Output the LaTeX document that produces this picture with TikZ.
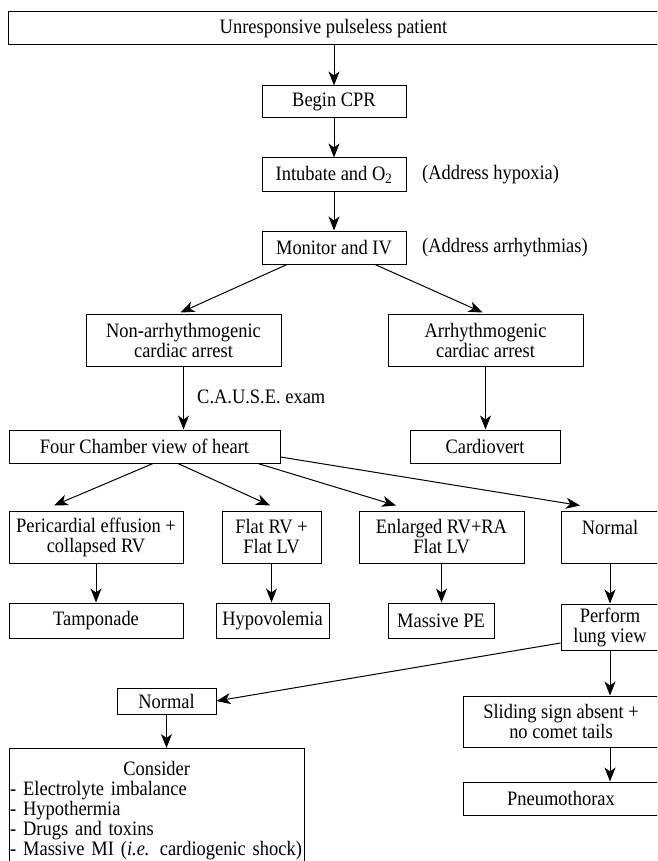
\documentclass[tikz,border=0pt]{standalone}
\usepackage{fontspec}
\setmainfont{Liberation Serif}[FakeStretch=0.9]
\usetikzlibrary{arrows.meta,calc}
\newcommand\diagfs{\fontsize{20.5}{20}\selectfont}
\begin{document}
\begin{tikzpicture}[x=1pt,y=-1pt,font=\diagfs,
  box/.style={draw, line width=1pt, inner sep=0pt, align=center},
  lbl/.style={inner sep=0pt},
  arr/.style={line width=1pt, -{Stealth[length=14pt,width=11pt,inset=4pt]}}]
\useasboundingbox (0,0) rectangle (657,861);
\clip (0,0) rectangle (657,861);

\node[box, minimum width=651pt, minimum height=33pt] (top) at (333.5,28.5) {Unresponsive pulseless patient};
\node[box, minimum width=144pt, minimum height=32pt] (cpr) at (334,102) {Begin CPR};
\node[box, minimum width=144pt, minimum height=33pt] (intub) at (334,174.5) {Intubate and O\textsubscript{2}};
\node[box, minimum width=144pt, minimum height=33pt] (mon) at (334,247.5) {Monitor and IV};
\node[lbl, anchor=west] (hyp) at (422,175) {(Address hypoxia)};
\node[lbl, anchor=west] (arrh) at (422,247.5) {(Address arrhythmias)};

\node[box, minimum width=195pt, minimum height=52pt] (non) at (183.5,340) {Non-arrhythmogenic\\cardiac arrest};
\node[box, minimum width=195pt, minimum height=52pt] (arr) at (485.5,340) {Arrhythmogenic\\cardiac arrest};
\node[lbl, anchor=west] (cause) at (197,397) {C.A.U.S.E. exam};

\node[box, minimum width=271pt, minimum height=33pt] (four) at (144.5,446.5) {Four Chamber view of heart};
\node[box, minimum width=150pt, minimum height=33pt] (cardio) at (485,446.5) {Cardiovert};

\node[box, minimum width=174pt, minimum height=52pt] (peri) at (96,537) {Pericardial effusion +\\collapsed RV};
\node[box, minimum width=99pt, minimum height=52pt] (flat) at (271.5,537) {Flat RV +\\Flat LV};
\node[box, minimum width=165pt, minimum height=52pt] (enl) at (441.5,537) {Enlarged RV+RA\\Flat LV};
\node[box, minimum width=98pt, minimum height=52pt] (norma) at (610,537) {Normal\\\mbox{}};

\node[box, minimum width=174pt, minimum height=35pt] (tamp) at (96,620.5) {Tamponade};
\node[box, minimum width=113pt, minimum height=35pt] (hypo) at (272.5,620.5) {Hypovolemia};
\node[box, minimum width=106pt, minimum height=35pt] (mpe) at (441,620.5) {Massive PE};
\node[box, minimum width=98pt, minimum height=46pt] (perf) at (610,627) {Perform\\lung view};

\node[box, minimum width=99pt, minimum height=26pt] (normb) at (166.5,701) {Normal};
\node[box, minimum width=196pt, minimum height=51pt] (slid) at (561,721.5) {Sliding sign absent +\\no comet tails};
\node[box, minimum width=196pt, minimum height=33pt] (pneu) at (561,798.5) {Pneumothorax};

\node[box, anchor=north west, minimum width=295pt, minimum height=140pt] (cons) at (9,748) {};
\node[anchor=north west, inner sep=0pt, text width=293pt, align=left] (constext) at (10,761)
  {\makebox[\linewidth]{Consider}\\- Electrolyte imbalance\\- Hypothermia\\- Drugs and toxins\\- Massive MI (\textit{i.e.} cardiogenic shock)};

% connectors
\draw[arr] (top.south -| cpr.north) -- (cpr.north);
\draw[arr] (cpr) -- (intub);
\draw[arr] (intub) -- (mon);
\draw[arr] ($(mon.south)+(-47,0)$) -- ($(non.north)+(-3,-1)$);
\draw[arr] ($(mon.south)+(41,0)$) -- ($(arr.north)+(-3,-1)$);
\draw[arr] (non.south) -- (non.south |- four.north);
\draw[arr] (arr.south) -- (arr.south |- cardio.north);

\draw[arr] ($(four.south)+(8.5,0)$) -- ($(peri.north)+(-42,-5)$);
\draw[arr] ($(four.south)+(33.5,0)$) -- ($(flat.north)+(-1.5,-5)$);
\draw[arr] ($(four.south)+(113.5,0)$) -- ($(enl.north)+(-45.5,-5)$);
\draw[arr] ($(four.east)+(0,10.5)$) -- ($(norma.north)+(-30,-5)$);

\draw[arr] (peri) -- (tamp);
\draw[arr] (flat.south) -- (flat.south |- hypo.north);
\draw[arr] (enl.south) -- (enl.south |- mpe.north);
\draw[arr] (norma) -- (perf);

\draw[arr] ($(perf.west)+(0,16)$) -- (normb.east);
\draw[arr] (normb) -- (normb.south |- cons.north);
\draw[arr] (perf.south) -- (perf.south |- slid.north);
\coordinate (sb) at ($(slid.south)+(49,0)$);
\draw[arr] (sb) -- (sb |- pneu.north);
\end{tikzpicture}
\end{document}
